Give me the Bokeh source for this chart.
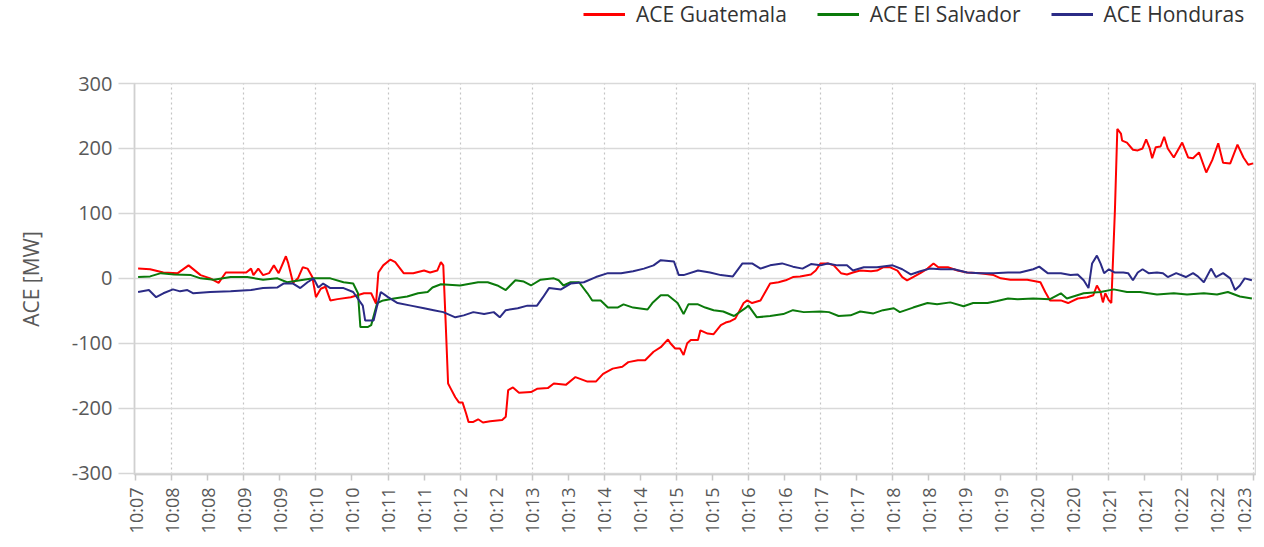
from bokeh.plotting import figure
from bokeh.layouts import column
from bokeh.models import (Range1d, FixedTicker, Legend, LegendItem)
from bokeh.embed import file_html
from bokeh.resources import INLINE

# ---- data (x = seconds after 10:07, tick every 30 s) ----
tick_labels = ["10:07", "10:08", "10:08", "10:09", "10:09", "10:10", "10:10", "10:11",
               "10:11", "10:12", "10:12", "10:13", "10:13", "10:14", "10:14", "10:15",
               "10:15", "10:16", "10:16", "10:17", "10:17", "10:18", "10:18", "10:19",
               "10:19", "10:20", "10:20", "10:21", "10:21", "10:22", "10:22", "10:23"]
tick_step = 30
y_ticks = [-300, -200, -100, 0, 100, 200, 300]
y_tick_labels = ["-300", "-200", "-100", "0", "100", "200", "300"]

gt_t = [2, 12, 23, 35, 44, 54, 62, 69, 75, 85, 92, 96, 98, 102, 106, 111, 115, 119, 125, 127,
        131, 135, 139, 143, 147, 150, 154, 158, 162, 168, 179, 190, 196, 200, 202, 206, 212, 216,
        223, 231, 240, 245, 251, 254, 256, 258, 260, 262, 266, 269, 272, 275, 277, 281, 285, 289,
        295, 305, 308, 310, 314, 319, 329, 334, 343, 348, 358, 366, 376, 383, 389, 397, 405, 410,
        418, 424, 431, 437, 443, 445, 449, 453, 456, 459, 462, 468, 470, 476, 481, 487, 491, 495,
        499, 506, 509, 513, 520, 524, 528, 535, 541, 547, 553, 562, 566, 570, 576, 581, 587, 592,
        597, 603, 612, 617, 622, 628, 634, 638, 642, 647, 653, 659, 664, 668, 676, 684, 692, 703,
        714, 720, 728, 736, 742, 753, 757, 761, 770, 776, 784, 792, 797, 800, 803, 805, 807, 810,
        812, 815, 817, 820, 821, 825, 830, 834, 838, 841, 844, 846, 849, 853, 856, 859, 864, 871,
        876, 880, 885, 891, 896, 901, 905, 911, 917, 922, 926, 930]
gt_v = [15, 14, 9, 8, 20, 5, 0, -7, 9, 9, 9, 15, 5, 15, 5, 8, 20, 8, 34, 23,
        -7, 0, 17, 15, 2, -29, -16, -13, -34, -32, -29, -23, -23, -39, 9, 20, 29, 25,
        8, 8, 12, 9, 12, 25, 20, -69, -162, -169, -183, -191, -191, -208, -221, -221, -217, -222,
        -220, -218, -213, -172, -168, -176, -175, -170, -169, -162, -164, -152, -159, -159, -147, -139, -136, -129,
        -126, -126, -113, -106, -94, -100, -108, -108, -118, -100, -95, -95, -80, -85, -86, -72, -68, -66,
        -62, -38, -34, -38, -34, -21, -8, -6, -3, 2, 3, 6, 12, 23, 23, 20, 8, 6,
        9, 12, 11, 12, 17, 17, 12, 2, -3, 2, 8, 15, 23, 17, 17, 12, 9, 8,
        5, 0, -2, -2, -2, -6, -21, -34, -34, -38, -31, -29, -26, -11, -21, -37, -23, -34,
        -38, 105, 230, 223, 212, 209, 198, 197, 200, 214, 200, 185, 202, 203, 218, 200, 186, 209,
        186, 185, 194, 163, 182, 208, 178, 177, 206, 186, 175, 177]

sv_t = [2, 12, 21, 32, 46, 54, 65, 79, 93, 106, 118, 126, 137, 148, 162, 173, 181, 185, 187, 193,
        196, 201, 206, 215, 226, 235, 243, 247, 254, 270, 285, 293, 301, 308, 316, 323, 329, 337,
        348, 352, 356, 362, 369, 376, 380, 387, 393, 401, 406, 414, 426, 430, 437, 443, 451, 456,
        460, 468, 474, 481, 489, 498, 508, 510, 517, 528, 539, 547, 556, 570, 577, 585, 595, 603,
        614, 622, 631, 636, 647, 659, 667, 678, 689, 697, 709, 717, 726, 734, 747, 761, 770, 775,
        789, 803, 814, 825, 836, 850, 864, 875, 889, 900, 909, 919, 929]
sv_v = [2, 3, 8, 6, 5, 0, -2, 2, 2, -2, 0, -6, -3, 0, 0, -6, -8, -23, -75, -75,
        -72, -38, -34, -31, -28, -23, -21, -14, -9, -11, -6, -6, -11, -18, -3, -5, -11, -2,
        0, -3, -11, -6, -6, -23, -34, -34, -45, -45, -40, -45, -48, -38, -26, -26, -38, -55,
        -40, -40, -45, -49, -51, -58, -45, -42, -60, -58, -55, -49, -52, -51, -52, -58, -57, -51,
        -54, -49, -46, -52, -45, -38, -40, -37, -43, -38, -38, -35, -31, -32, -31, -32, -23, -31,
        -23, -21, -17, -21, -21, -25, -23, -25, -23, -25, -21, -28, -31]

hn_t = [2, 11, 17, 23, 31, 37, 43, 48, 62, 79, 96, 106, 118, 123, 131, 137, 143, 148, 152, 156,
        162, 173, 181, 189, 191, 198, 201, 204, 210, 218, 229, 240, 248, 256, 266, 273, 281, 290,
        298, 303, 308, 318, 326, 334, 339, 344, 354, 362, 373, 383, 393, 404, 414, 423, 431, 437,
        448, 452, 456, 468, 478, 487, 497, 505, 513, 520, 528, 538, 547, 555, 562, 570, 576, 584,
        592, 597, 606, 617, 630, 638, 645, 653, 661, 670, 681, 692, 703, 714, 726, 736, 747, 752,
        759, 770, 778, 784, 789, 793, 796, 800, 803, 806, 810, 815, 822, 826, 830, 834, 838, 843,
        850, 855, 859, 866, 874, 880, 884, 889, 895, 899, 905, 911, 915, 919, 923, 929]
hn_v = [-21, -18, -29, -23, -17, -20, -18, -23, -21, -20, -18, -15, -14, -8, -8, -15, -6, 0, -14, -8,
        -15, -15, -21, -42, -65, -65, -42, -21, -29, -38, -42, -46, -49, -52, -60, -57, -52, -55,
        -52, -60, -49, -46, -42, -42, -29, -15, -17, -8, -6, 2, 8, 8, 11, 15, 20, 28,
        26, 5, 5, 12, 9, 5, 3, 23, 23, 15, 20, 23, 18, 15, 22, 20, 23, 20,
        20, 12, 17, 17, 20, 14, 6, 11, 15, 14, 14, 9, 8, 8, 9, 9, 14, 18,
        8, 8, 5, 6, -3, -15, 23, 35, 23, 8, 14, 9, 9, 8, -3, 9, 14, 8,
        9, 8, 2, 8, 2, 8, 3, -6, 15, 2, 8, 0, -18, -11, 0, -3]

series_names = ["ACE Guatemala", "ACE El Salvador", "ACE Honduras"]
series_colors = ["#FF0000", "#0B7A0B", "#2B2B86"]

FONT = "Open Sans"
TXT = "#595959"

ticks = [i * tick_step for i in range(len(tick_labels))]
all_t = [gt_t, sv_t, hn_t]
all_v = [gt_v, sv_v, hn_v]

LEG_H = 30

# ---- legend strip (its own frame is aligned with the chart frame) ----
pl = figure(width=1256, height=LEG_H, output_backend="svg", toolbar_location=None,
            x_range=Range1d(-1e6, -1e6 + 1), y_range=Range1d(-1e6, -1e6 + 1), min_border=0)
pl.axis.visible = False
pl.grid.visible = False
pl.outline_line_color = None
pl.background_fill_color = "white"
pl.border_fill_color = "white"
key_renderers = [pl.line(t, v, line_color=c, line_width=3)
                 for t, v, c in zip(all_t, all_v, series_colors)]
legend = Legend(items=[LegendItem(label=n, renderers=[r]) for n, r in zip(series_names, key_renderers)],
                orientation="horizontal", location=(449, 2),
                label_text_font=FONT, label_text_font_size="21px", label_text_color="#333333",
                glyph_width=42, glyph_height=16, label_height=16, label_standoff=11, spacing=30,
                padding=0, margin=0, border_line_color=None, background_fill_alpha=0)
pl.add_layout(legend)

# ---- main chart ----
p = figure(width=1256, height=540 - LEG_H, output_backend="svg", toolbar_location=None,
           x_range=Range1d(-1, 932), y_range=Range1d(-302, 300),
           min_border_left=134, min_border_right=1, min_border_top=83 - LEG_H, min_border_bottom=66)
p.background_fill_color = "white"
p.border_fill_color = "white"
p.outline_line_color = "#d9d9d9"
p.outline_line_width = 1.5

# y axis
p.yaxis.ticker = FixedTicker(ticks=y_ticks)
p.yaxis.major_label_overrides = {t: lab for t, lab in zip(y_ticks, y_tick_labels)}
p.yaxis.axis_label = "ACE [MW]"
p.yaxis.axis_label_text_font = FONT
p.yaxis.axis_label_text_font_size = "21px"
p.yaxis.axis_label_text_font_style = "normal"
p.yaxis.axis_label_text_color = TXT
p.yaxis.axis_label_standoff = 24
p.yaxis.major_label_text_font = FONT
p.yaxis.major_label_text_font_size = "20px"
p.yaxis.major_label_text_color = TXT
p.yaxis.major_label_standoff = 6
p.yaxis.major_tick_out = 16
p.yaxis.major_tick_in = 0
p.yaxis.major_tick_line_color = "#d6d6d6"
p.yaxis.major_tick_line_width = 1.5
p.yaxis.minor_tick_line_color = None
p.yaxis.axis_line_color = "#d0d0d0"
p.yaxis.axis_line_width = 1.5

# x axis
p.xaxis.ticker = FixedTicker(ticks=ticks)
p.xaxis.major_label_overrides = {t: lab for t, lab in zip(ticks, tick_labels)}
p.xaxis.major_label_orientation = 1.5707963
p.xaxis.major_label_text_font = FONT
p.xaxis.major_label_text_font_size = "18px"
p.xaxis.major_label_text_color = TXT
p.xaxis.major_label_standoff = 7
p.xaxis.major_tick_out = 6
p.xaxis.major_tick_in = 0
p.xaxis.major_tick_line_color = "#c8c8c8"
p.xaxis.major_tick_line_width = 1.5
p.xaxis.minor_tick_line_color = None
p.xaxis.axis_line_color = "#d0d0d0"
p.xaxis.axis_line_width = 1.5

# grids
p.ygrid.ticker = FixedTicker(ticks=y_ticks)
p.ygrid.grid_line_color = "#d9d9d9"
p.ygrid.grid_line_width = 1.5
p.xgrid.ticker = FixedTicker(ticks=ticks[1::2])
p.xgrid.grid_line_color = "#c4c4c4"
p.xgrid.grid_line_width = 1.2
p.xgrid.grid_line_dash = "2 3"

for t, v, c in zip(all_t, all_v, series_colors):
    p.line(t, v, line_color=c, line_width=2)

layout = column(pl, p, spacing=0)
open("out.html", "w").write(file_html(layout, INLINE))
